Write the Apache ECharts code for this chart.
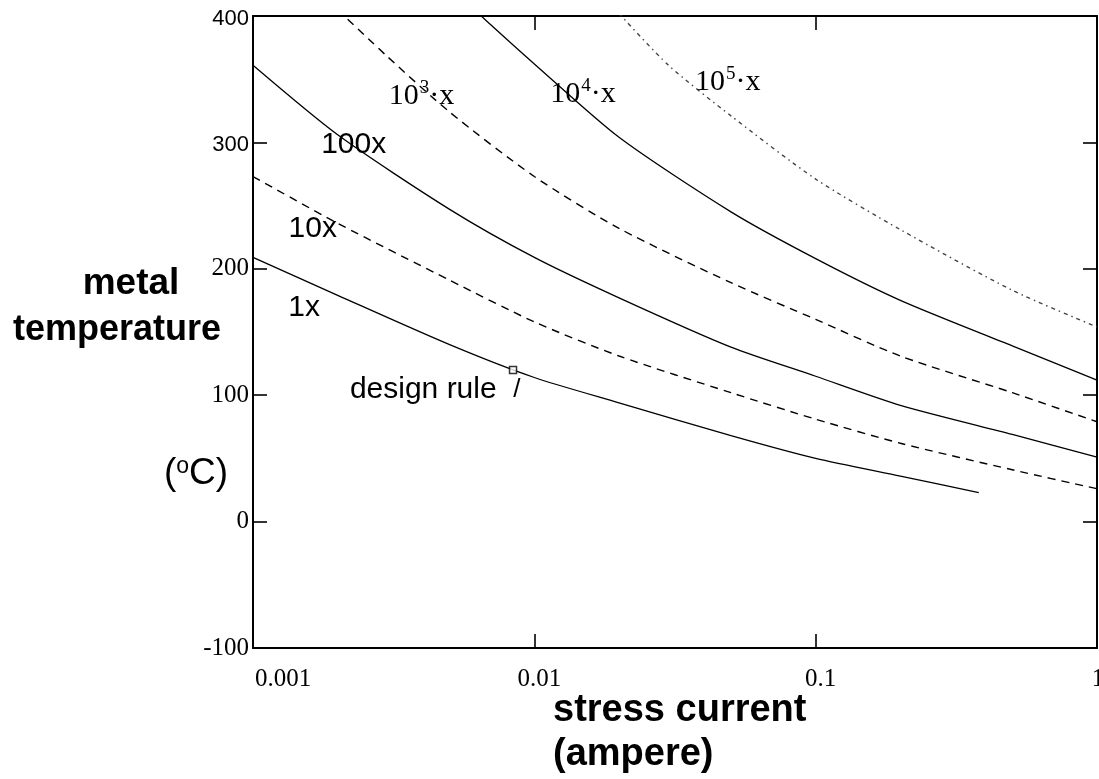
<!DOCTYPE html>
<html>
<head>
<meta charset="utf-8">
<script src="https://cdn.jsdelivr.net/npm/echarts@6/dist/echarts.min.js"></script>
<style>
  html, body { margin: 0; padding: 0; background: #fff; }
  #chart { width: 1099px; height: 779px; }
</style>
</head>
<body>
<div id="chart"></div>
<script>
// Stress current (A) vs. metal temperature (°C) for equal-lifetime contours.
const xTickLabels = ['0.001', '0.01', '0.1', '1'];
const yTickLabels = ['-100', '0', '100', '200', '300', '400'];

const current1x = [0.001, 0.002, 0.005, 0.01, 0.02, 0.05, 0.1, 0.2, 0.38];
const temp1x    = [209, 179, 140, 114, 94, 68, 50, 36, 23];

const current10x = [0.001, 0.002, 0.005, 0.01, 0.02, 0.05, 0.1, 0.2, 0.5, 1];
const temp10x    = [273, 236, 191, 158, 131, 102, 81, 62, 41, 26];

const current100x = [0.001, 0.002, 0.005, 0.01, 0.02, 0.05, 0.1, 0.2, 0.5, 1];
const temp100x    = [361, 306, 247, 209, 177, 138, 115, 92, 69, 51];

const current1e3 = [0.002, 0.003, 0.005, 0.01, 0.02, 0.05, 0.1, 0.2, 0.5, 1];
const temp1e3    = [405, 368, 324, 273, 232, 189, 160, 131, 102, 79];

const current1e4 = [0.006, 0.007, 0.01, 0.02, 0.05, 0.1, 0.2, 0.5, 1];
const temp1e4    = [407, 393, 362, 304, 245, 208, 175, 139, 112];

const current1e5 = [0.02, 0.03, 0.05, 0.1, 0.2, 0.5, 1];
const temp1e5    = [402, 361, 321, 271, 231, 183, 154];

// design-rule operating point on the 1x curve
const designRuleCurrent = 0.0084;
const designRuleTemp = 120;

const pairs = (xs, ys) => xs.map((x, i) => [x, ys[i]]);

const SERIF = '"Liberation Serif", "DejaVu Serif", serif';
const SANS = '"Liberation Sans", Arial, sans-serif';

const chart = echarts.init(document.getElementById('chart'), null, { renderer: 'canvas' });

const tickStyle = { inside: true, length: 14, lineStyle: { color: '#000', width: 1.6 } };
const lineAxis = { show: true, onZero: false, lineStyle: { color: '#000', width: 2 } };

function xLabel(v) {
  const k = Math.round(Math.log10(v)) + 3;
  const s = xTickLabels[k];
  if (s === undefined) return '';
  // inner decades sit a little right of their ticks
  return (k === 0 || k === xTickLabels.length - 1) ? '{e|' + s + '}' : '{m|' + s + '}';
}
function yLabel(v) {
  const k = Math.round((v + 100) / 100);
  const s = yTickLabels[k];
  return v >= 300 ? '{s|' + s + '}' : '{r|' + s + '}';
}

function curve(name, xs, ys, style) {
  return {
    name, type: 'line', data: pairs(xs, ys), showSymbol: false, smooth: 0.25,
    clip: true, silent: true, z: 3,
    lineStyle: Object.assign({ color: '#000', width: 1.3 }, style)
  };
}

chart.setOption({
  animation: false,
  backgroundColor: '#fff',
  grid: { left: 253, right: 2, top: 16, bottom: 131, containLabel: false, outerBoundsMode: 'none' },
  xAxis: [
    {
      type: 'log', logBase: 10, min: 0.001, max: 1, position: 'bottom',
      axisLine: lineAxis, axisTick: tickStyle, splitLine: { show: false },
      minorTick: { show: false },
      axisLabel: {
        formatter: xLabel, color: '#000', margin: 19,
        alignMinLabel: 'left', showMinLabel: true, showMaxLabel: true,
        rich: {
          e: { fontFamily: SERIF, fontSize: 25, color: '#000', padding: [0, 0, 0, 2] },
          m: { fontFamily: SERIF, fontSize: 25, color: '#000', padding: [0, 0, 0, 10] }
        }
      }
    },
    {
      type: 'log', logBase: 10, min: 0.001, max: 1, position: 'top',
      axisLine: lineAxis, axisTick: tickStyle, splitLine: { show: false },
      axisLabel: { show: false }
    }
  ],
  yAxis: [
    {
      type: 'value', min: -100, max: 400, interval: 100, position: 'left',
      axisLine: lineAxis, axisTick: tickStyle, splitLine: { show: false },
      axisLabel: {
        formatter: yLabel, margin: 4, color: '#000',
        rich: {
          s: { fontFamily: SANS, fontSize: 22, color: '#000', padding: [6, 0, 0, 0] },
          r: { fontFamily: SERIF, fontSize: 25, color: '#000' }
        }
      }
    },
    {
      type: 'value', min: -100, max: 400, interval: 100, position: 'right',
      axisLine: lineAxis, axisTick: tickStyle, splitLine: { show: false },
      axisLabel: { show: false }
    }
  ],
  series: [
    curve('1x', current1x, temp1x, {}),
    curve('10x', current10x, temp10x, { type: [8, 6], width: 1.4 }),
    curve('100x', current100x, temp100x, {}),
    curve('1000x', current1e3, temp1e3, { type: [8, 6], width: 1.4 }),
    curve('10000x', current1e4, temp1e4, {}),
    curve('100000x', current1e5, temp1e5, { type: [4, 4, 1.5, 4], width: 1.4, color: '#444' }),
    {
      name: 'design rule', type: 'scatter', z: 5, silent: true,
      data: [[designRuleCurrent, designRuleTemp]],
      symbol: 'rect', symbolSize: 7,
      itemStyle: { color: '#fff', borderColor: '#000', borderWidth: 1.5 }
    }
  ]
});

// Curve annotations, anchored in data space
const supRich = {
  b: { fontFamily: SERIF, fontSize: 30, color: '#000' },
  p: { fontFamily: SERIF, fontSize: 19, color: '#000', padding: [0, 0, 16, 1] }
};
const annotations = [
  { at: [0.00152, 169], text: '1x', font: SANS, size: 30, align: 'center' },
  { at: [0.00163, 232], text: '10x', font: SANS, size: 30, align: 'center' },
  { at: [0.00228, 298], text: '100x', font: SANS, size: 30, align: 'center' },
  { at: [0.00397, 337], text: '{b|10}{p|3}{b|·x}', rich: supRich, align: 'center' },
  { at: [0.0149, 338], text: '{b|10}{p|4}{b|·x}', rich: supRich, align: 'center' },
  { at: [0.0487, 348], text: '{b|10}{p|5}{b|·x}', rich: supRich, align: 'center' },
  { at: [0.00221, 104], text: 'design rule', font: SANS, size: 30, align: 'left' },
  { at: [0.00866, 104], text: '/', font: SANS, size: 26, align: 'center' }
];

const graphics = annotations.map(a => {
  const p = chart.convertToPixel({ gridIndex: 0 }, a.at);
  const style = {
    text: a.text, x: p[0], y: p[1], align: a.align, verticalAlign: 'middle', fill: '#000'
  };
  if (a.rich) style.rich = a.rich;
  else style.font = a.size + 'px ' + a.font;
  return { type: 'text', silent: true, z: 10, style };
});

// Axis titles
graphics.push(
  { type: 'text', silent: true, style: { text: 'metal', x: 131, y: 284, align: 'center', verticalAlign: 'middle', font: 'bold 37px ' + SANS, fill: '#000' } },
  { type: 'text', silent: true, style: { text: 'temperature', x: 117, y: 330, align: 'center', verticalAlign: 'middle', font: 'bold 36px ' + SANS, fill: '#000' } },
  {
    type: 'text', silent: true,
    style: {
      text: '{n|(}{o|o}{n|C)}', x: 196, y: 474, align: 'center', verticalAlign: 'middle', fill: '#000',
      rich: {
        n: { fontFamily: SANS, fontSize: 37, color: '#000' },
        o: { fontFamily: SANS, fontSize: 23, color: '#000', padding: [0, 0, 14, 0] }
      }
    }
  },
  { type: 'text', silent: true, style: { text: 'stress current', x: 553, y: 711, align: 'left', verticalAlign: 'middle', font: 'bold 38px ' + SANS, fill: '#000' } },
  { type: 'text', silent: true, style: { text: '(ampere)', x: 553, y: 755, align: 'left', verticalAlign: 'middle', font: 'bold 38px ' + SANS, fill: '#000' } }
);

chart.setOption({ graphic: graphics });
</script>
</body>
</html>
